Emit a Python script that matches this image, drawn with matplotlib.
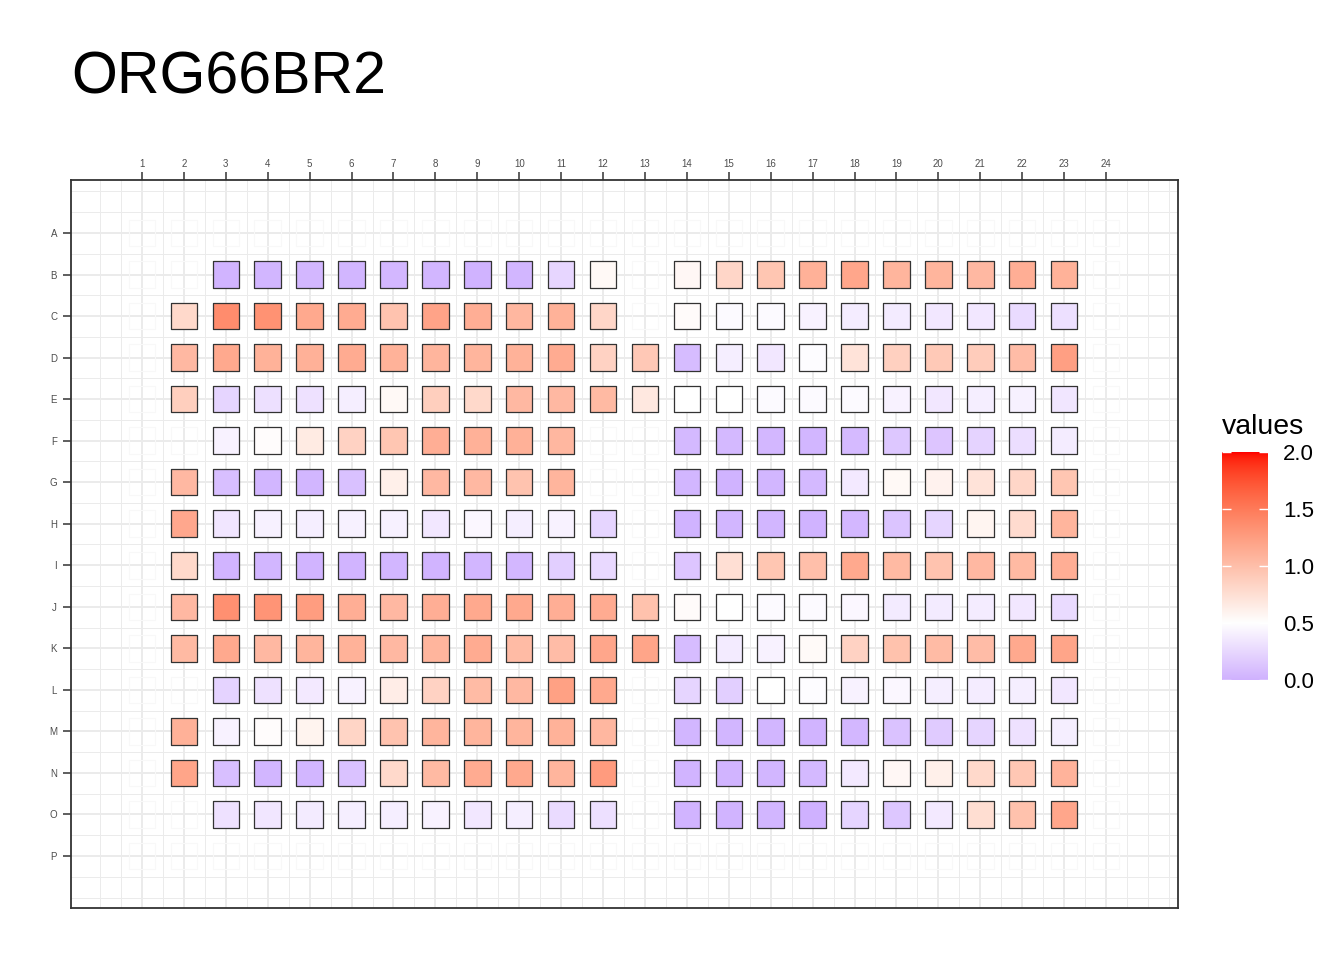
import numpy as np
import matplotlib
matplotlib.use("Agg")
import matplotlib.pyplot as plt

plt.rcParams['font.family'] = ['Liberation Sans', 'DejaVu Sans']

title = "ORG66BR2"
row_names = list("ABCDEFGHIJKLMNOP")
col_names = list(range(1, 25))
_ = None

# one list per plate row, columns 1..24 (None = empty well)
row_a = [_] * 24
row_b = [_, _, 0.02, 0.03, 0.04, 0.03, 0.04, 0.03, 0.01, 0.03, 0.24, 0.55, _,
         0.56, 0.82, 0.95, 1.11, 1.19, 1.08, 1.08, 1.05, 1.13, 1.10, _]
row_c = [_, 0.80, 1.38, 1.34, 1.17, 1.15, 0.97, 1.21, 1.13, 1.06, 1.10, 0.82, _,
         0.53, 0.47, 0.47, 0.42, 0.38, 0.37, 0.35, 0.35, 0.27, 0.30, _]
row_d = [_, 1.05, 1.17, 1.10, 1.11, 1.15, 1.10, 1.08, 1.08, 1.10, 1.15, 0.85, 0.93,
         0.07, 0.39, 0.35, 0.48, 0.72, 0.87, 0.92, 0.90, 1.02, 1.24, _]
row_e = [_, 0.88, 0.23, 0.30, 0.31, 0.39, 0.55, 0.88, 0.80, 1.05, 1.05, 1.04, 0.68,
         0.50, 0.50, 0.47, 0.47, 0.47, 0.42, 0.35, 0.39, 0.41, 0.34, _]
row_f = [_, _, 0.42, 0.52, 0.66, 0.85, 0.95, 1.13, 1.11, 1.11, 1.06, _, _,
         0.05, 0.05, 0.04, 0.03, 0.06, 0.14, 0.13, 0.22, 0.29, 0.38, _]
row_g = [_, 1.05, 0.09, 0.03, 0.03, 0.10, 0.62, 1.05, 1.05, 0.97, 1.08, _, _,
         0.03, 0.01, 0.03, 0.05, 0.36, 0.55, 0.60, 0.72, 0.82, 0.95, _]
row_h = [_, 1.18, 0.34, 0.41, 0.39, 0.41, 0.41, 0.35, 0.45, 0.39, 0.42, 0.23, _,
         0.01, 0.03, 0.03, 0.01, 0.04, 0.12, 0.23, 0.58, 0.78, 1.08, _]
row_i = [_, 0.80, 0.02, 0.03, 0.02, 0.02, 0.03, 0.02, 0.03, 0.04, 0.19, 0.26, _,
         0.13, 0.75, 0.95, 1.00, 1.17, 1.04, 0.97, 1.05, 1.04, 1.13, _]
row_j = [_, 1.05, 1.35, 1.32, 1.26, 1.13, 1.05, 1.13, 1.17, 1.17, 1.13, 1.15, 0.98,
         0.53, 0.50, 0.47, 0.47, 0.45, 0.37, 0.37, 0.38, 0.35, 0.27, _]
row_k = [_, 1.04, 1.17, 1.05, 1.08, 1.10, 1.05, 1.08, 1.15, 1.03, 1.02, 1.19, 1.20,
         0.07, 0.37, 0.42, 0.54, 0.85, 0.98, 1.03, 1.02, 1.17, 1.20, _]
row_l = [_, _, 0.22, 0.31, 0.36, 0.42, 0.64, 0.85, 1.03, 1.05, 1.23, 1.17, _,
         0.23, 0.19, 0.50, 0.48, 0.42, 0.45, 0.39, 0.38, 0.39, 0.35, _]
row_m = [_, 1.11, 0.42, 0.52, 0.59, 0.83, 0.97, 1.08, 1.08, 1.08, 1.10, 1.06, _,
         0.03, 0.03, 0.03, 0.02, 0.04, 0.11, 0.17, 0.23, 0.31, 0.39, _]
row_n = [_, 1.20, 0.09, 0.03, 0.03, 0.11, 0.80, 1.04, 1.15, 1.17, 1.08, 1.27, _,
         0.02, 0.02, 0.03, 0.05, 0.36, 0.56, 0.62, 0.80, 0.94, 1.09, _]
row_o = [_, _, 0.31, 0.34, 0.37, 0.39, 0.39, 0.42, 0.35, 0.39, 0.27, 0.30, _,
         0.02, 0.02, 0.03, 0.00, 0.23, 0.14, 0.36, 0.76, 0.98, 1.19, _]
row_p = [_] * 24

legend_title = "values"
legend_ticks = [0.0, 0.5, 1.0, 1.5, 2.0]
limits = (0.0, 2.0)
midpoint = 0.5

plate = np.array([row_a, row_b, row_c, row_d, row_e, row_f, row_g, row_h,
                  row_i, row_j, row_k, row_l, row_m, row_n, row_o, row_p], dtype=float)


# colour scale: blue - white - red, interpolated in CIELAB like ggplot
M = np.array([[0.4124564, 0.3575761, 0.1804375],
              [0.2126729, 0.7151522, 0.0721750],
              [0.0193339, 0.1191920, 0.9503041]])
WHITE = np.array([0.95047, 1.0, 1.08883])


def to_lab(rgb):
    rgb = np.asarray(rgb, float)
    lin = np.where(rgb <= 0.04045, rgb / 12.92, ((rgb + 0.055) / 1.055) ** 2.4)
    xyz = (M @ lin) / WHITE
    f = np.where(xyz > (6 / 29) ** 3, np.cbrt(xyz), xyz / (3 * (6 / 29) ** 2) + 4 / 29)
    return np.array([116 * f[1] - 16, 500 * (f[0] - f[1]), 200 * (f[1] - f[2])])


def from_lab(lab):
    L, a, b = lab[..., 0], lab[..., 1], lab[..., 2]
    fy = (L + 16) / 116
    f = np.stack([fy + a / 500, fy, fy - b / 200], axis=-1)
    xyz = np.where(f > 6 / 29, f ** 3, 3 * (6 / 29) ** 2 * (f - 4 / 29)) * WHITE
    lin = np.clip(xyz @ np.linalg.inv(M).T, 0, 1)
    return np.where(lin <= 0.0031308, 12.92 * lin, 1.055 * lin ** (1 / 2.4) - 0.055)


lab_low = to_lab([0, 0, 1])
lab_mid = to_lab([1, 1, 1])
lab_high = to_lab([1, 0, 0])


def value_colour(v):
    v = np.asarray(v, float)
    span = max(abs(limits[0] - midpoint), abs(limits[1] - midpoint))
    p = (v - midpoint) / span / 2 + 0.5
    p = p[..., None]
    lab = np.where(p < 0.5,
                   lab_low + (lab_mid - lab_low) * (p / 0.5),
                   lab_mid + (lab_high - lab_mid) * ((p - 0.5) / 0.5))
    return from_lab(lab)


fig = plt.figure(figsize=(13.44, 9.6), dpi=100)
ax = fig.add_axes([71 / 1344, 1 - 908 / 960, 1107 / 1344, 728 / 960])

ax.set_xlim(-0.694, 25.718)
ax.set_ylim(17.252, -0.276)

ax.set_xticks(col_names)
ax.set_xticklabels([str(c) for c in col_names])
ax.set_yticks(range(1, 17))
ax.set_yticklabels(row_names)
ax.set_xticks(np.arange(0, 26, 0.5), minor=True)
ax.set_yticks(np.arange(0, 17.5, 0.5), minor=True)
ax.grid(which='major', color='#EBEBEB', lw=1.4)
ax.grid(which='minor', color='#EBEBEB', lw=0.7)
ax.set_axisbelow(True)

ax.xaxis.tick_top()
ax.tick_params(which='major', length=5.5, width=1.1, color='#333333',
               labelsize=7, labelcolor='#4D4D4D', pad=2.5)
ax.tick_params(axis='y', which='major', pad=4.5)
ax.tick_params(which='minor', length=0)
for s in ax.spines.values():
    s.set_color('#333333')
    s.set_linewidth(1.3)

# every well, faint outline
gx, gy = np.meshgrid(np.arange(1, 25), np.arange(1, 17))
ax.scatter(gx.ravel(), gy.ravel(), marker='s', s=365, facecolors='none',
           edgecolors='#F8F8F8', linewidths=0.8, zorder=2)

# filled wells
yy, xx = np.nonzero(~np.isnan(plate))
vals = plate[yy, xx]
ax.scatter(xx + 1, yy + 1, marker='s', s=365, c=value_colour(vals),
           edgecolors='#333333', linewidths=0.9, zorder=3)

fig.text(71 / 1344, 1 - 94 / 960, title, fontsize=42.5, ha='left', va='baseline')

# legend colour bar
cax = fig.add_axes([1222 / 1344, 1 - 680 / 960, 46 / 1344, 228 / 960])
grad = np.linspace(limits[0], limits[1], 300)
img = value_colour(grad)[:, None, :]
cax.imshow(img, extent=[0, 1, limits[0], limits[1]], origin='lower', aspect='auto')
cax.set_xlim(0, 1)
cax.set_ylim(limits)
cax.set_xticks([])
cax.set_yticks(legend_ticks)
cax.set_yticklabels(["%.1f" % t for t in legend_ticks])
cax.tick_params(axis='y', direction='in', left=True, right=True, labelleft=False,
                labelright=True, color='white', length=6.3, width=1, labelsize=16, pad=11)
for s in cax.spines.values():
    s.set_visible(False)
fig.text(1222 / 1344, 1 - 434 / 960, legend_title, fontsize=20.5, ha='left', va='baseline')

fig.savefig("out.png", dpi=100)
